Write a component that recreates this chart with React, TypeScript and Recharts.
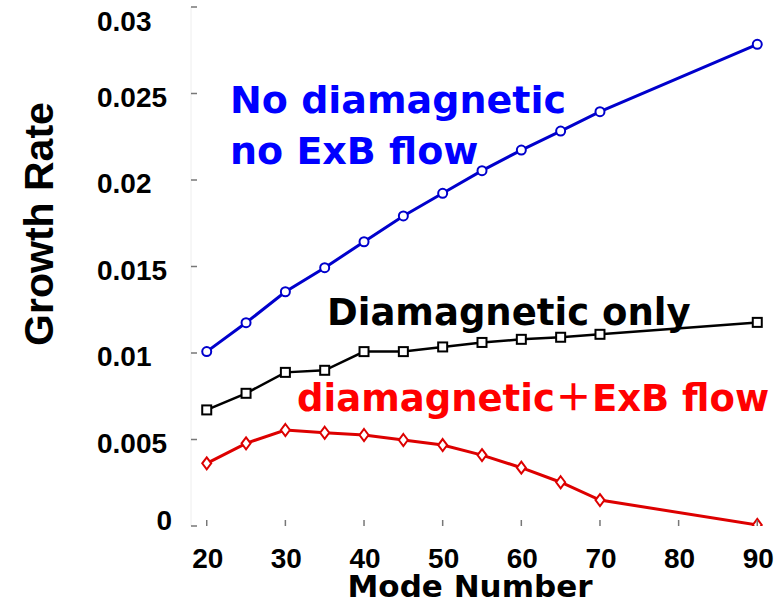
import React from 'react';
import { LineChart, Line, XAxis, YAxis } from 'recharts';

const modes = [20, 25, 30, 35, 40, 45, 50, 55, 60, 65, 70, 90];
const noDiaNoExB = [0.01008, 0.01175, 0.01354, 0.01493, 0.01643, 0.01792, 0.01923, 0.02054, 0.02173, 0.02283, 0.02395, 0.02784];
const diaOnly = [0.00671, 0.00767, 0.00888, 0.009, 0.01008, 0.01008, 0.01035, 0.01061, 0.01079, 0.01091, 0.01108, 0.01177];
const diaExB = [0.00362, 0.00478, 0.00555, 0.00539, 0.00526, 0.00497, 0.00468, 0.0041, 0.00337, 0.00253, 0.0015, 0.00006];

const xTicks = [20, 30, 40, 50, 60, 70, 80, 90];
const yTicks = [0, 0.005, 0.01, 0.015, 0.02, 0.025, 0.03];
const yTickLabels = ['0', '0.005', '0.01', '0.015', '0.02', '0.025', '0.03'];

const xTitle = 'Mode Number';
const yTitle = 'Growth Rate';
const noteBlue1 = 'No diamagnetic';
const noteBlue2 = 'no ExB flow';
const noteBlack = 'Diamagnetic only';
const noteRed = 'diamagnetic\uFF0BExB flow';

const data = modes.map((m, i) => ({ mode: m, blue: noDiaNoExB[i], black: diaOnly[i], red: diaExB[i] }));

const TICK_FONT = '"Liberation Sans", Arial, sans-serif';
const TEXT_FONT = '"DejaVu Sans", "Noto Sans CJK SC", sans-serif';
const TICK_COLOR = '#777';
const TICK_SIZE = 28;

// width of a numeric label in Arial-like bold metrics
const labelWidth = (s: string) =>
  s.split('').reduce((w, ch) => w + (ch === '.' ? 0.278 : 0.556), 0) * TICK_SIZE;

const BottomTick = (props: any) => {
  const { x, y, payload } = props;
  const s = String(payload.value);
  return (
    <g>
      <line x1={x} y1={y} x2={x} y2={y - 6} stroke={TICK_COLOR} strokeWidth={1.5} />
      <text
        x={x + 1}
        y={y + 42}
        textAnchor="middle"
        fontFamily={TICK_FONT}
        fontWeight="bold"
        fontSize={TICK_SIZE}
        fill="#000"
        textLength={labelWidth(s)}
        lengthAdjust="spacingAndGlyphs"
      >
        {s}
      </text>
    </g>
  );
};

const TopTick = (props: any) => {
  const { x, y } = props;
  return <line x1={x} y1={y} x2={x} y2={y + 6} stroke={TICK_COLOR} strokeWidth={1.5} />;
};

const LeftTick = (props: any) => {
  const { x, y, payload } = props;
  const i = yTicks.indexOf(payload.value);
  const label = yTickLabels[i];
  const isZero = payload.value === 0;
  const dy = payload.value === 0.03 ? 24 : isZero ? 4 : 13;
  return (
    <g>
      <line x1={x} y1={y} x2={x + 6} y2={y} stroke={TICK_COLOR} strokeWidth={1.5} />
      <text
        x={isZero ? x - 19 : x - 94}
        y={y + dy}
        textAnchor={isZero ? 'end' : 'start'}
        fontFamily={TICK_FONT}
        fontWeight="bold"
        fontSize={TICK_SIZE}
        fill="#000"
        textLength={labelWidth(label)}
        lengthAdjust="spacingAndGlyphs"
      >
        {label}
      </text>
    </g>
  );
};

const RightTick = (props: any) => {
  const { x, y } = props;
  return <line x1={x} y1={y} x2={x - 6} y2={y} stroke={TICK_COLOR} strokeWidth={1.5} />;
};

const circleDot = (p: any) =>
  p.cx == null ? null : (
    <circle key={`c${p.index}`} cx={p.cx} cy={p.cy} r={4.5} fill="#fff" stroke="#0000CC" strokeWidth={2} />
  );
const squareDot = (p: any) =>
  p.cx == null ? null : (
    <rect key={`s${p.index}`} x={p.cx - 4.5} y={p.cy - 4.5} width={9} height={9} fill="#fff" stroke="#000" strokeWidth={2} />
  );
const diamondDot = (p: any) =>
  p.cx == null ? null : (
    <polygon
      key={`d${p.index}`}
      points={`${p.cx},${p.cy - 6} ${p.cx + 4.5},${p.cy} ${p.cx},${p.cy + 6} ${p.cx - 4.5},${p.cy}`}
      fill="#fff"
      stroke="#DD0000"
      strokeWidth={2}
    />
  );

export default function App() {
  return (
    <div style={{ position: 'absolute', left: 0, top: 0, width: 781, height: 604, background: '#fff' }}>
      <LineChart width={781} height={604} data={data} margin={{ top: 7, right: 8, bottom: 0, left: 0 }}>
        <XAxis
          dataKey="mode"
          type="number"
          domain={[18, 92]}
          ticks={xTicks}
          interval={0}
          height={78}
          axisLine={false}
          tickLine={false}
          tickSize={0}
          tickMargin={0}
          tick={<BottomTick />}
        />
        <XAxis
          xAxisId="top"
          dataKey="mode"
          type="number"
          orientation="top"
          domain={[18, 92]}
          ticks={xTicks}
          interval={0}
          height={0}
          axisLine={{ stroke: '#808080', strokeWidth: 2 }}
          tickLine={false}
          tickSize={0}
          tickMargin={0}
          tick={<TopTick />}
        />
        <YAxis
          type="number"
          domain={[0, 0.03]}
          ticks={yTicks}
          interval={0}
          width={191}
          allowDataOverflow
          axisLine={{ stroke: '#eeeeee', strokeWidth: 1 }}
          tickLine={false}
          tickSize={0}
          tickMargin={0}
          tick={<LeftTick />}
        />
        <YAxis
          yAxisId="right"
          orientation="right"
          type="number"
          domain={[0, 0.03]}
          ticks={yTicks}
          interval={0}
          width={0}
          axisLine={{ stroke: '#222', strokeWidth: 1.5 }}
          tickLine={false}
          tickSize={0}
          tickMargin={0}
          tick={<RightTick />}
        />
        <Line type="linear" dataKey="blue" stroke="#0000CC" strokeWidth={3} dot={circleDot} isAnimationActive={false} />
        <Line type="linear" dataKey="black" stroke="#000" strokeWidth={2.5} dot={squareDot} isAnimationActive={false} />
        <Line type="linear" dataKey="red" stroke="#DD0000" strokeWidth={3} dot={diamondDot} isAnimationActive={false} />
      </LineChart>
      <svg width={781} height={604} style={{ position: 'absolute', left: 0, top: 0, pointerEvents: 'none' }}>
        <text x={230} y={113} fontFamily={TEXT_FONT} fontWeight="bold" fontSize={38} fill="#0000FF">{noteBlue1}</text>
        <text x={230} y={164} fontFamily={TEXT_FONT} fontWeight="bold" fontSize={38} fill="#0000FF">{noteBlue2}</text>
        <text x={327} y={325} fontFamily={TEXT_FONT} fontWeight="bold" fontSize={37} fill="#000">{noteBlack}</text>
        <text x={297} y={411} fontFamily={TEXT_FONT} fontWeight="bold" fontSize={37} fill="#FF0000">{noteRed}</text>
        <text x={470} y={597} textAnchor="middle" fontFamily={TEXT_FONT} fontWeight="bold" fontSize={31} fill="#000">{xTitle}</text>
        <text
          transform="rotate(-90)"
          x={-224}
          y={53}
          textAnchor="middle"
          fontFamily={TICK_FONT}
          fontWeight="bold"
          fontSize={41}
          fill="#000"
        >
          {yTitle}
        </text>
      </svg>
    </div>
  );
}
